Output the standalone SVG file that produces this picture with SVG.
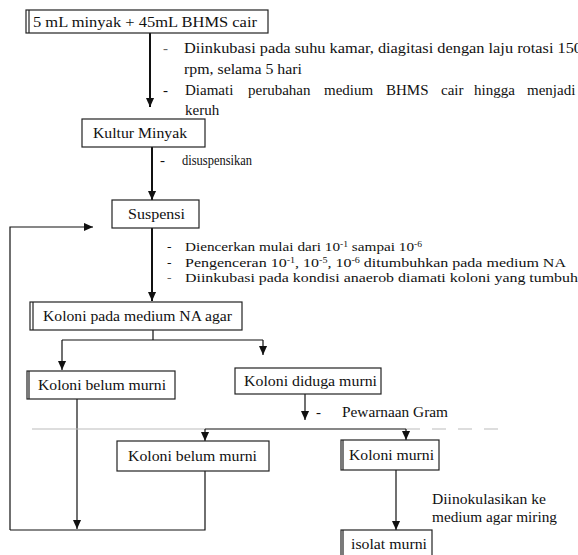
<svg xmlns="http://www.w3.org/2000/svg" width="578" height="555" viewBox="0 0 578 555" font-family="'Liberation Serif', 'Times New Roman', serif">
<style>
text{font-family:"Liberation Serif","Times New Roman",serif;fill:#111}
.bt{font-size:15px}
.nt{font-size:15px}
.ns{font-size:13.5px}
.dash{fill:#666}
.box{fill:#fff;stroke:#222;stroke-width:1.2}
.ln{fill:none;stroke:#111;stroke-width:1.2}
.thick{fill:none;stroke:#111;stroke-width:2}
.grey{fill:none;stroke:#bbb;stroke-width:1}
.sup{font-size:8.5px}
</style>
<defs>
<marker id="ah" markerUnits="userSpaceOnUse" markerWidth="9" markerHeight="9" viewBox="0 0 10 10" refX="10" refY="5" orient="auto">
<path d="M0,0.5 L10,5 L0,9.5 z" fill="#111"/>
</marker>
</defs>

<g id="connectors">
<line class="thick" x1="150" y1="33" x2="150" y2="107" marker-end="url(#ah)"/>
<line class="thick" x1="152" y1="147" x2="152" y2="200" marker-end="url(#ah)"/>
<line class="thick" x1="152" y1="228" x2="152" y2="301" marker-end="url(#ah)"/>
<path class="ln" d="M10,530 V227 H93" stroke-width="1.6" marker-end="url(#ah)"/>
<path class="ln" d="M153,330 V340 M62,340 H263"/>
<line class="ln" x1="62" y1="340" x2="62" y2="370" marker-end="url(#ah)"/>
<line class="ln" x1="263" y1="340" x2="263" y2="355" marker-end="url(#ah)"/>
<line class="ln" x1="77" y1="399" x2="77" y2="529" marker-end="url(#ah)"/>
<path class="ln" d="M10,530 H205 V471"/>
<line class="ln" x1="305" y1="394" x2="305" y2="420" marker-end="url(#ah)"/>
<path class="grey" d="M32,429 H205"/>
<path class="grey" d="M406,429 H510" stroke-dasharray="14,12"/>
<path class="ln" d="M205,429 H406"/>
<line class="ln" x1="205" y1="429" x2="205" y2="441" marker-end="url(#ah)"/>
<line class="ln" x1="406" y1="429" x2="406" y2="440" marker-end="url(#ah)"/>
<line class="ln" x1="396" y1="470" x2="396" y2="530" marker-end="url(#ah)"/>
</g>

<g id="notes">
<text class="nt dash" x="163" y="53">-</text>
<text class="nt" x="184" y="53" style="font-size:14px" textLength="398" lengthAdjust="spacingAndGlyphs">Diinkubasi pada suhu kamar, diagitasi dengan laju rotasi 150</text>
<text class="nt" x="184" y="74" textLength="118" lengthAdjust="spacingAndGlyphs">rpm, selama 5 hari</text>
<text class="nt" x="163" y="95">-</text>
<text class="nt" y="95"><tspan x="185">Diamati</tspan><tspan x="248">perubahan</tspan><tspan x="324">medium</tspan><tspan x="386">BHMS</tspan><tspan x="441">cair</tspan><tspan x="474">hingga</tspan><tspan x="527">menjadi</tspan></text>
<text class="nt" x="185" y="115">keruh</text>
<text class="nt" x="160" y="165">-</text>
<text class="nt" x="182" y="165" textLength="70" lengthAdjust="spacingAndGlyphs">disuspensikan</text>
<text class="ns" x="167" y="251">-</text>
<text class="ns" x="185" y="251" textLength="237" lengthAdjust="spacingAndGlyphs">Diencerkan mulai dari 10<tspan class="sup" dy="-4">-1</tspan><tspan dy="4"> sampai 10</tspan><tspan class="sup" dy="-4">-6</tspan></text>
<text class="ns" x="167" y="267">-</text>
<text class="ns" x="185" y="267" textLength="381" lengthAdjust="spacingAndGlyphs">Pengenceran 10<tspan class="sup" dy="-4">-1</tspan><tspan dy="4">, 10</tspan><tspan class="sup" dy="-4">-5</tspan><tspan dy="4">, 10</tspan><tspan class="sup" dy="-4">-6</tspan><tspan dy="4"> ditumbuhkan pada medium NA</tspan></text>
<text class="ns dash" x="167" y="282">-</text>
<text class="ns" x="185" y="282" textLength="393" lengthAdjust="spacingAndGlyphs">Diinkubasi pada kondisi anaerob diamati koloni yang tumbuh</text>
<text class="nt" x="316" y="417">-</text>
<text class="nt" x="342" y="417" textLength="106" lengthAdjust="spacingAndGlyphs">Pewarnaan Gram</text>
<text class="nt" x="432" y="504" textLength="114" lengthAdjust="spacingAndGlyphs">Diinokulasikan ke</text>
<text class="nt" x="432" y="522" textLength="125" lengthAdjust="spacingAndGlyphs">medium agar miring</text>
</g>

<g id="n1">
<rect class="box" x="26" y="10" width="242" height="23"/>
<line x1="29" y1="10" x2="29" y2="33" stroke="#222" stroke-width="1.2"/>
<text class="bt" x="33" y="27" textLength="224" lengthAdjust="spacingAndGlyphs">5 mL minyak + 45mL BHMS cair</text>
</g>
<g id="n2">
<rect class="box" x="82" y="119" width="123" height="28"/>
<text class="bt" x="93" y="138" textLength="94" lengthAdjust="spacingAndGlyphs">Kultur Minyak</text>
</g>
<g id="n3">
<rect class="box" x="112" y="200" width="87" height="28"/>
<text class="bt" x="128" y="219" textLength="57" lengthAdjust="spacingAndGlyphs">Suspensi</text>
</g>
<g id="n4">
<rect class="box" x="30" y="302" width="212" height="28"/>
<line x1="33" y1="302" x2="33" y2="330" stroke="#222" stroke-width="1.2"/>
<text class="bt" x="43" y="321" textLength="189" lengthAdjust="spacingAndGlyphs">Koloni pada medium NA agar</text>
</g>
<g id="n5">
<rect class="box" x="27" y="371" width="148" height="28"/>
<line x1="29" y1="371" x2="29" y2="399" stroke="#222" stroke-width="1.2"/>
<text class="bt" x="38" y="390" textLength="128" lengthAdjust="spacingAndGlyphs">Koloni belum murni</text>
</g>
<g id="n6">
<rect class="box" x="235" y="368" width="146" height="26"/>
<text class="bt" x="244" y="386" textLength="133" lengthAdjust="spacingAndGlyphs">Koloni diduga murni</text>
</g>
<g id="n7">
<rect class="box" x="117" y="441" width="152" height="30"/>
<text class="bt" x="128" y="461" textLength="129" lengthAdjust="spacingAndGlyphs">Koloni belum murni</text>
</g>
<g id="n8">
<rect class="box" x="341" y="440" width="98" height="30"/>
<line x1="343" y1="440" x2="343" y2="470" stroke="#222" stroke-width="1.2"/>
<text class="bt" x="349" y="460" textLength="85" lengthAdjust="spacingAndGlyphs">Koloni murni</text>
</g>
<g id="n9">
<rect class="box" x="341" y="530" width="91" height="32"/>
<line x1="343" y1="530" x2="343" y2="562" stroke="#222" stroke-width="1.2"/>
<text class="bt" x="351" y="549" textLength="76" lengthAdjust="spacingAndGlyphs">isolat murni</text>
</g>
</svg>
